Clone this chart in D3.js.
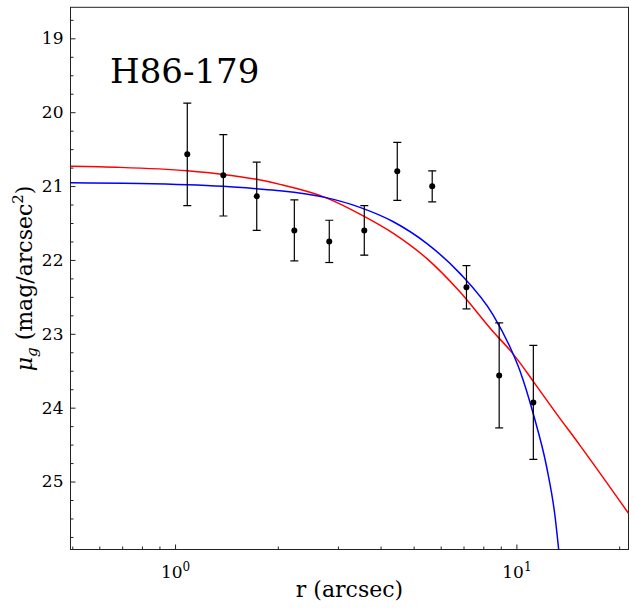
<!DOCTYPE html>
<html>
<head>
<meta charset="utf-8">
<script src="https://cdn.jsdelivr.net/npm/d3@7"></script>
<style>
  body { margin: 0; background: #fff; }
</style>
</head>
<body>
<div id="chart"></div>
<script>
// observed profile
const radius = [1.086, 1.385, 1.735, 2.236, 2.830, 3.584, 4.477, 5.667, 7.140, 8.903, 11.21];
const mu = [20.571, 20.855, 21.139, 21.600, 21.749, 21.600, 20.801, 21.004, 22.370, 23.563, 23.929];
const muErr = [0.695, 0.550, 0.462, 0.413, 0.286, 0.336, 0.393, 0.210, 0.293, 0.711, 0.772];

// red model
const redR = [0.494, 0.69, 1.086, 1.385, 1.735, 2.03, 2.75, 3.48, 4.36, 5.46, 6.83, 8.55, 9.57, 10.01, 11.23, 13.0, 15.35, 21.3];
const redMu = [20.733, 20.747, 20.793, 20.842, 20.909, 20.977, 21.153, 21.379, 21.640, 21.979, 22.431, 22.973, 23.221, 23.333, 23.65, 24.06, 24.51, 25.43];

// blue model
const blueR = [0.494, 1.086, 1.385, 1.735, 2.03, 2.75, 3.48, 4.36, 5.46, 6.83, 8.55, 9.57, 10.24, 11.23, 12.26, 12.96, 13.3];
const blueMu = [20.955, 20.982, 21.004, 21.037, 21.064, 21.153, 21.288, 21.483, 21.776, 22.182, 22.747, 23.176, 23.50, 24.1, 24.8, 25.45, 25.92];

const yTicks = [19, 20, 21, 22, 23, 24, 25];
const xTicks = [1, 10];
const title = 'H86-179';

const width = 634, height = 608;
const mLeft = 70.5, mRight = 628.5, mTop = 7.3, mBottom = 549.5;
const serif = '"DejaVu Serif", "Liberation Serif", serif';

const svg = d3.select('#chart')
    .append('svg')
    .attr('width', width)
    .attr('height', height)
    .style('font-family', serif);

const x = d3.scaleLog().domain([0.494, 21.3]).range([mLeft, mRight]);
const y = d3.scaleLinear().domain([18.58, 25.92]).range([mTop, mBottom]);

svg.append('clipPath')
    .attr('id', 'plot-clip')
    .append('rect')
    .attr('x', mLeft).attr('y', mTop)
    .attr('width', mRight - mLeft).attr('height', mBottom - mTop);

// Axes (ticks inward, only left and bottom)
const yMinor = d3.range(18.75, 25.92, 0.25).filter(v => Math.abs(v - Math.round(v)) > 1e-6);
const xMinor = [0.5, 0.6, 0.7, 0.8, 0.9, 2, 3, 4, 5, 6, 7, 8, 9, 20].filter(v => v >= 0.494 && v <= 21.3);

const yAxis = svg.append('g')
    .attr('transform', `translate(${mLeft},0)`)
    .call(d3.axisLeft(y).tickValues(yTicks).tickSize(-5).tickPadding(7).tickFormat(d3.format('d')));
yAxis.select('.domain').remove();
yAxis.selectAll('text').attr('font-size', 17).style('font-family', serif).attr('fill', '#000');
yAxis.selectAll('line').attr('stroke', '#222');

svg.append('g')
    .attr('transform', `translate(${mLeft},0)`)
    .call(d3.axisLeft(y).tickValues(yMinor).tickSize(-3).tickFormat(''))
    .call(g => g.select('.domain').remove())
    .selectAll('line').attr('stroke', '#222');

const xAxis = svg.append('g')
    .attr('transform', `translate(0,${mBottom})`)
    .call(d3.axisBottom(x).tickValues(xTicks).tickSize(-5).tickFormat(''));
xAxis.select('.domain').remove();
xAxis.selectAll('line').attr('stroke', '#222');
xAxis.selectAll('.tick').append('text')
    .attr('y', 28)
    .attr('text-anchor', 'middle')
    .attr('font-size', 17)
    .attr('fill', '#000')
    .style('font-family', serif)
    .call(t => {
        t.append('tspan').text('10');
        t.append('tspan').attr('dy', -7).attr('font-size', 12).text(d => Math.round(Math.log10(d)));
    });

svg.append('g')
    .attr('transform', `translate(0,${mBottom})`)
    .call(d3.axisBottom(x).tickValues(xMinor).tickSize(-3).tickFormat(''))
    .call(g => g.select('.domain').remove())
    .selectAll('line').attr('stroke', '#222');

// Frame
svg.append('rect')
    .attr('x', mLeft).attr('y', mTop)
    .attr('width', mRight - mLeft).attr('height', mBottom - mTop)
    .attr('fill', 'none')
    .attr('stroke', '#222')
    .attr('stroke-width', 1);

const plot = svg.append('g').attr('clip-path', 'url(#plot-clip)');

const line = d3.line()
    .x(d => x(d[0]))
    .y(d => y(d[1]))
    .curve(d3.curveMonotoneX);

plot.append('path')
    .datum(d3.zip(redR, redMu))
    .attr('d', line)
    .attr('fill', 'none')
    .attr('stroke', '#ff0000')
    .attr('stroke-width', 1.5);

plot.append('path')
    .datum(d3.zip(blueR, blueMu))
    .attr('d', line)
    .attr('fill', 'none')
    .attr('stroke', '#0000ff')
    .attr('stroke-width', 1.5);

// Error bars and points
const points = radius.map((r, i) => ({ r: r, mu: mu[i], err: muErr[i] }));
const cap = 4;

const bars = plot.append('g')
    .selectAll('g')
    .data(points)
    .join('g')
    .attr('stroke', '#000')
    .attr('stroke-width', 1.2);

bars.append('line')
    .attr('x1', d => x(d.r)).attr('x2', d => x(d.r))
    .attr('y1', d => y(d.mu - d.err)).attr('y2', d => y(d.mu + d.err));
bars.append('line')
    .attr('x1', d => x(d.r) - cap).attr('x2', d => x(d.r) + cap)
    .attr('y1', d => y(d.mu - d.err)).attr('y2', d => y(d.mu - d.err));
bars.append('line')
    .attr('x1', d => x(d.r) - cap).attr('x2', d => x(d.r) + cap)
    .attr('y1', d => y(d.mu + d.err)).attr('y2', d => y(d.mu + d.err));

plot.append('g')
    .selectAll('circle')
    .data(points)
    .join('circle')
    .attr('cx', d => x(d.r))
    .attr('cy', d => y(d.mu))
    .attr('r', 3)
    .attr('fill', '#000');

// Title inside the plot
svg.append('text')
    .attr('x', 110)
    .attr('y', 83)
    .attr('font-size', 34)
    .style('font-family', serif)
    .text(title);

// Axis labels
svg.append('text')
    .attr('x', (mLeft + mRight) / 2)
    .attr('y', 597)
    .attr('text-anchor', 'middle')
    .attr('font-size', 22)
    .style('font-family', serif)
    .text('r (arcsec)');

const ylab = svg.append('text')
    .attr('transform', `translate(32,${(mTop + mBottom) / 2}) rotate(-90)`)
    .attr('text-anchor', 'middle')
    .attr('font-size', 22)
    .style('font-family', serif);
ylab.append('tspan').attr('font-style', 'italic').text('μ');
ylab.append('tspan').attr('font-size', 15).attr('font-style', 'italic').attr('dy', 5).text('g');
ylab.append('tspan').attr('dy', -5).text(' (mag/arcsec');
ylab.append('tspan').attr('font-size', 15).attr('dy', -9).text('2');
ylab.append('tspan').attr('dy', 9).text(')');
</script>
</body>
</html>
